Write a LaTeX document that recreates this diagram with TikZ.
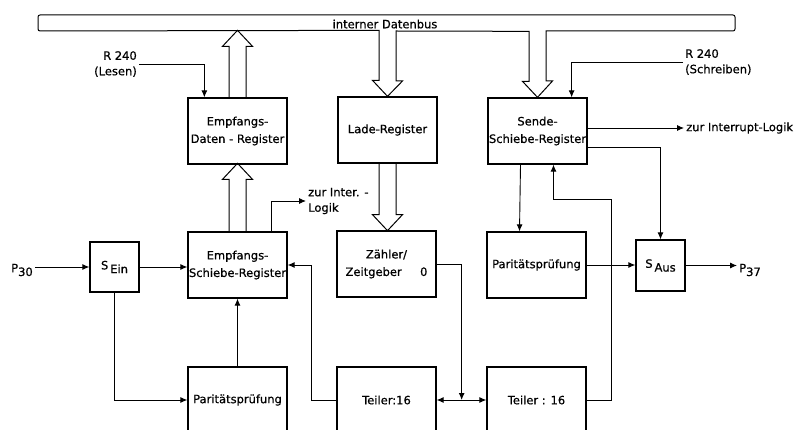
\documentclass[tikz,border=0pt]{standalone}
\usepackage{fontspec}
\setmainfont{DejaVu Sans}[FakeBold=0.6]
\usetikzlibrary{arrows.meta}
\tikzset{
  block/.style={draw, line width=1.3pt, minimum width=99pt, minimum height=66pt, inner sep=0pt, align=center},
  sbox/.style={draw, line width=1.3pt, minimum width=49pt, minimum height=50pt, inner sep=0pt},
  line/.style={line width=0.9pt, -{Latex[length=7pt,width=6pt]}},
  twoway/.style={line width=0.9pt, {Latex[length=7pt,width=6pt]}-{Latex[length=7pt,width=6pt]}},
  hollow/.style={line width=1pt, line join=miter},
  lbl/.style={font=\fontsize{11.5}{15.5}\selectfont, inner sep=2pt},
}

\begin{document}
\begin{tikzpicture}[x=1pt,y=-1pt,font=\fontsize{11.5}{17.5}\selectfont]
  \def\bl{38}
  \def\br{735}
  \def\bt{15}
  \def\bb{31}
  \def\s{8.5}
  \def\h{15}
  \def\k{16}
  \useasboundingbox (0,0) rectangle (802,430);
  \clip (0,0) rectangle (802,430);
  % blocks
  \node[block] (edr) at (237.5,131) {Empfangs-\\Daten - Register};
  \node[block] (lade) at (387.5,130) {Lade-Register};
  \node[block] (sende) at (537.5,131) {Sende-\\Schiebe-Register};
  \node[block] (esr) at (237.5,265) {Empfangs-\\Schiebe-Register};
  \node[block] (zaehler) at (386.5,264) {Zähler/\\Zeitgeber\hspace{1.6em}0};
  \node[block] (prechts) at (536.5,265) {Paritätsprüfung};
  \node[block] (plinks) at (237.5,400) {Paritätsprüfung};
  \node[block] (teiler1) at (386.5,400) {Teiler:16};
  \node[block] (teiler2) at (536.5,400) {Teiler : 16};
  \node[sbox] (sein) at (114.5,267) {S\,\raisebox{-.6ex}{Ein}};
  \node[sbox, minimum height=51pt] (saus) at (660.5,265.5) {S\,\raisebox{-.6ex}{Aus}};
  % texts
  \node[lbl, anchor=west] (p30) at (9,270) {P\raisebox{-.6ex}{30}};
  \node[lbl, anchor=west] (p37) at (737,270) {P\raisebox{-.6ex}{37}};
  \node[lbl, align=right, anchor=east] (rlesen) at (139,64) {R 240\\(Lesen)};
  \node[lbl, align=left, anchor=west] (rschreiben) at (683,62) {R 240\\(Schreiben)};
  \node[lbl, anchor=west] (zint) at (684,128) {zur Interrupt-Logik};
  \node[lbl, align=left, anchor=west] (zinter) at (306,201) {zur Inter. -\\Logik};
  \node[lbl] (busname) at (385,24) {interner Datenbus};
  % bus
  \draw[hollow] (lade.north) ++(-\h,-\k) -- ++(6.5,0) -- ++(0,-50) [rounded corners=2pt] -- (\bl,\bb) -- (\bl,\bt) -- (\br,\bt) -- (\br,\bb) [sharp corners] -- ([xshift=\s pt]sende.north |- 0,\bb) -- ++(0,50) -- ++(6.5,0) -- (sende.north) -- ++(-\h,-\k) -- ++(6.5,0) -- ++(0,-50) -- ([xshift=\s pt]lade.north |- 0,\bb) -- ++(0,50) -- ++(6.5,0) -- (lade.north) -- cycle;
  \draw[hollow] ([xshift=-\s pt]edr.north) -- ++(0,-51) -- ++(-6.5,0) -- ++(15,-16) -- ++(15,16) -- ++(-6.5,0) -- ++(0,51);
  \draw[hollow] ([xshift=-\s pt]esr.north) -- ++(0,-52) -- ++(-6.5,0) -- ++(15,-16) -- ++(15,16) -- ++(-6.5,0) -- ++(0,52);
  \draw[hollow] ([xshift=-\s pt]lade.south) -- ++(0,51) -- ++(-6.5,0) -- ++(15,16) -- ++(15,-16) -- ++(-6.5,0) -- ++(0,-51);
  % connections
  \draw[line] (rlesen.east) -| ([xshift=17pt]edr.north west);
  \draw[line] (rschreiben.west) -| ([xshift=-16pt]sende.north east);
  \draw[line] (sende.east |- zint.west) -- (zint.west);
  \draw[line] ([xshift=-16pt]esr.north east) |- (zinter.west);
  \draw[line] (p30.east |- sein.west) -- (sein.west);
  \draw[line] (sein.east) -- (sein.east -| esr.west);
  \draw[line] (sein.south) |- (plinks.west);
  \draw[line] (plinks.north) -- (esr.south);
  \draw[line] (teiler1.west) -- ++(-25,0) |- (esr.east);
  \draw[line] (zaehler.east) -- ++(25,0) coordinate (zk) -- (zk |- teiler1.east);
  \draw[twoway] (teiler1.east) -- (teiler2.west);
  \draw[line] (teiler2.east) -- ++(25,0) -- ++(0,-201) -| ([xshift=16pt]sende.south);
  \draw[line] ([xshift=-17pt]sende.south) -- ([xshift=-17pt]prechts.north);
  \draw[line] ([yshift=-16pt]sende.east) -| (saus.north);
  \draw[line] (prechts.east) -- (prechts.east -| saus.west);
  \draw[line] (saus.east) -- (saus.east -| p37.west);
\end{tikzpicture}
\end{document}
